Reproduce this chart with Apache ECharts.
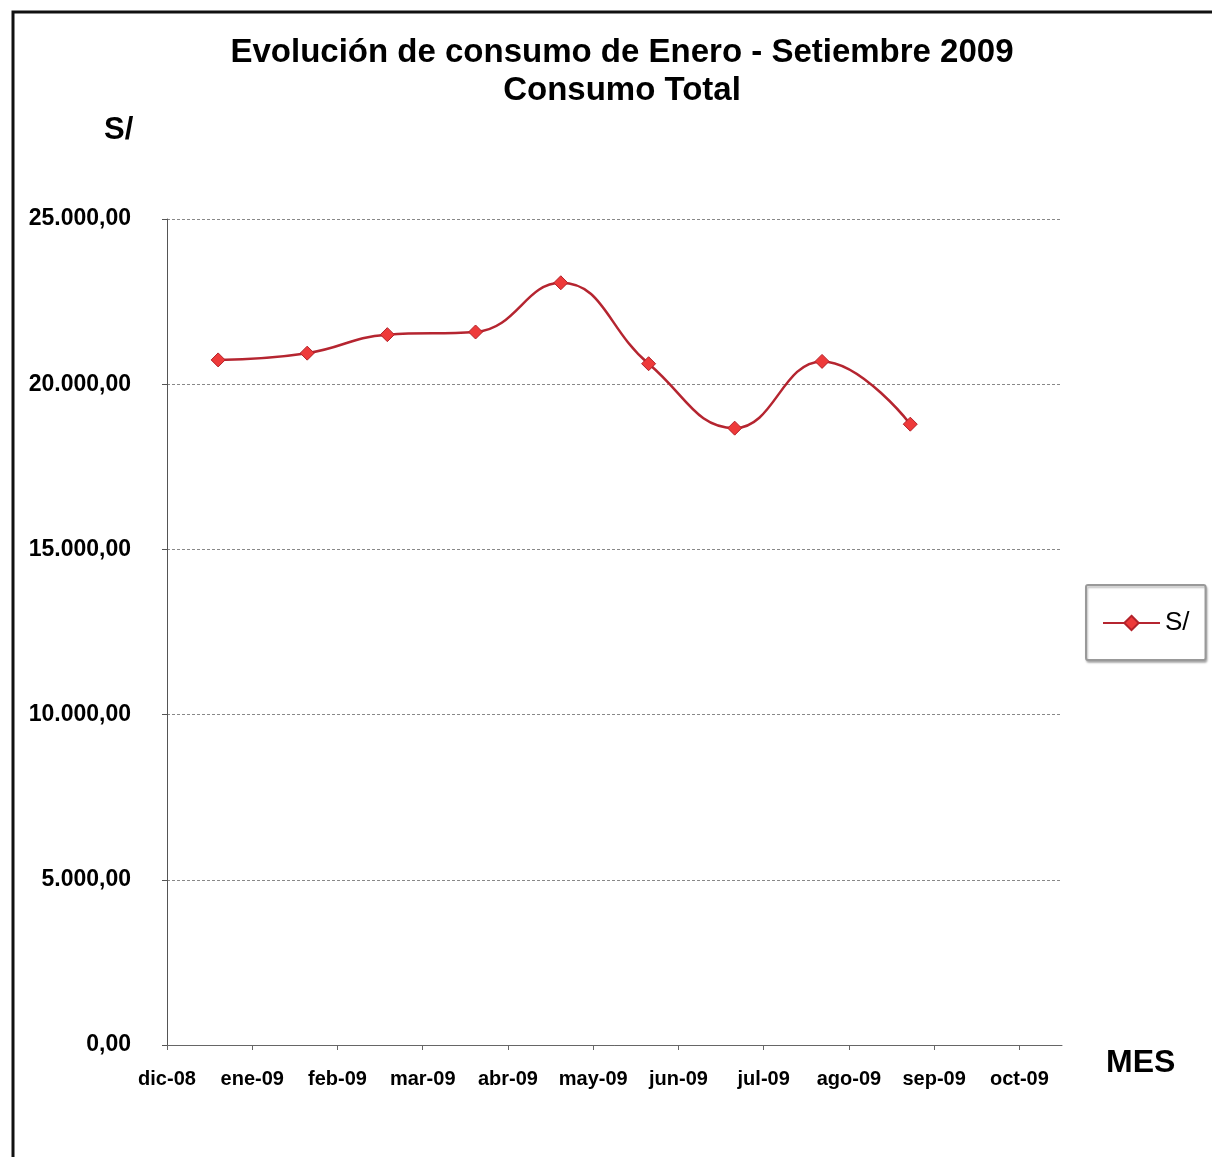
<!DOCTYPE html>
<html>
<head>
<meta charset="utf-8">
<script src="https://cdn.jsdelivr.net/npm/echarts@6/dist/echarts.min.js"></script>
<style>
html,body{margin:0;padding:0;background:#fff;}
#chart{width:1212px;height:1157px;}
</style>
</head>
<body>
<div id="chart"></div>
<script>
// Month tick labels (x axis, one per month starting dic-08)
var monthLabels = ['dic-08','ene-09','feb-09','mar-09','abr-09','may-09','jun-09','jul-09','ago-09','sep-09','oct-09'];
// Position of each reading along the month axis (months since dic-08)
var readingPos = [0.60, 1.645, 2.585, 3.62, 4.62, 5.65, 6.66, 7.685, 8.72];
// Consumption values S/
var consumo = [20735, 20940, 21500, 21580, 23070, 20620, 18670, 20690, 18790];
// Y axis ticks
var yTicks = [0, 5000, 10000, 15000, 20000, 25000];

var seriesData = readingPos.map(function (p, i) { return [p, consumo[i]]; });
var tickIdx = monthLabels.map(function (_, i) { return i; });

function fmt(v) {
  var s = Math.round(v).toString().replace(/\B(?=(\d{3})+(?!\d))/g, '.');
  return s + ',00';
}

var chart = echarts.init(document.getElementById('chart'), null, {renderer: 'canvas'});
var FONT = 'Liberation Sans, Arial, sans-serif';
chart.setOption({
  backgroundColor: '#fff',
  animation: false,
  title: {
    text: 'Evolución de consumo de Enero - Setiembre 2009\nConsumo Total',
    left: 617,
    top: 29,
    textAlign: 'center',
    textStyle: {fontFamily: FONT, fontWeight: 'bold', fontSize: 33, lineHeight: 38, color: '#000'}
  },
  graphic: [
    {type: 'rect', shape: {x: 13, y: 12, width: 1400, height: 1400}, style: {fill: 'none', stroke: '#111', lineWidth: 3}, silent: true},
    {type: 'text', left: 104, top: 115, style: {text: 'S/', fontFamily: FONT, fontWeight: 'bold', fontSize: 31, fill: '#000'}},
    {type: 'text', left: 1106, top: 1047, style: {text: 'MES', fontFamily: FONT, fontWeight: 'bold', fontSize: 32, fill: '#000'}}
  ],
  legend: {
    left: 1086,
    top: 585,
    orient: 'vertical',
    padding: [25, 16, 24, 16],
    itemWidth: 57,
    itemHeight: 18,
    borderColor: '#999',
    borderWidth: 2,
    borderRadius: 2,
    shadowColor: 'rgba(0,0,0,0.25)',
    shadowBlur: 2,
    shadowOffsetX: 1,
    shadowOffsetY: 2,
    backgroundColor: '#fff',
    textStyle: {fontFamily: FONT, fontSize: 26, color: '#000'},
    data: ['S/']
  },
  grid: {left: 167, right: 150, top: 219, bottom: 112, containLabel: false},
  xAxis: {
    type: 'value',
    min: 0,
    max: 10.5,
    interval: 1,
    axisLine: {show: true, lineStyle: {color: '#666', width: 1}},
    axisTick: {show: true, length: 5, customValues: tickIdx, lineStyle: {color: '#666'}},
    splitLine: {show: false},
    axisLabel: {
      customValues: tickIdx,
      margin: 24,
      fontFamily: FONT, fontWeight: 'bold', fontSize: 20, color: '#000',
      formatter: function (v) { return monthLabels[Math.round(v)] || ''; }
    }
  },
  yAxis: {
    type: 'value',
    min: yTicks[0],
    max: yTicks[yTicks.length - 1],
    interval: 5000,
    axisLine: {show: true, lineStyle: {color: '#555', width: 1}},
    axisTick: {show: true, length: 5, lineStyle: {color: '#555'}},
    splitLine: {show: true, lineStyle: {color: '#888', type: [3, 2], width: 1}},
    axisLabel: {
      margin: 36,
      fontFamily: FONT, fontWeight: 'bold', fontSize: 23, color: '#000',
      formatter: function (v) { return fmt(v); }
    }
  },
  series: [{
    name: 'S/',
    type: 'line',
    data: seriesData,
    smooth: 0.45,
    symbol: 'diamond',
    symbolSize: 14,
    itemStyle: {color: '#ee3a3a', borderColor: '#b3222a', borderWidth: 1},
    lineStyle: {color: '#b52530', width: 2.5}
  }]
});
</script>
</body>
</html>
